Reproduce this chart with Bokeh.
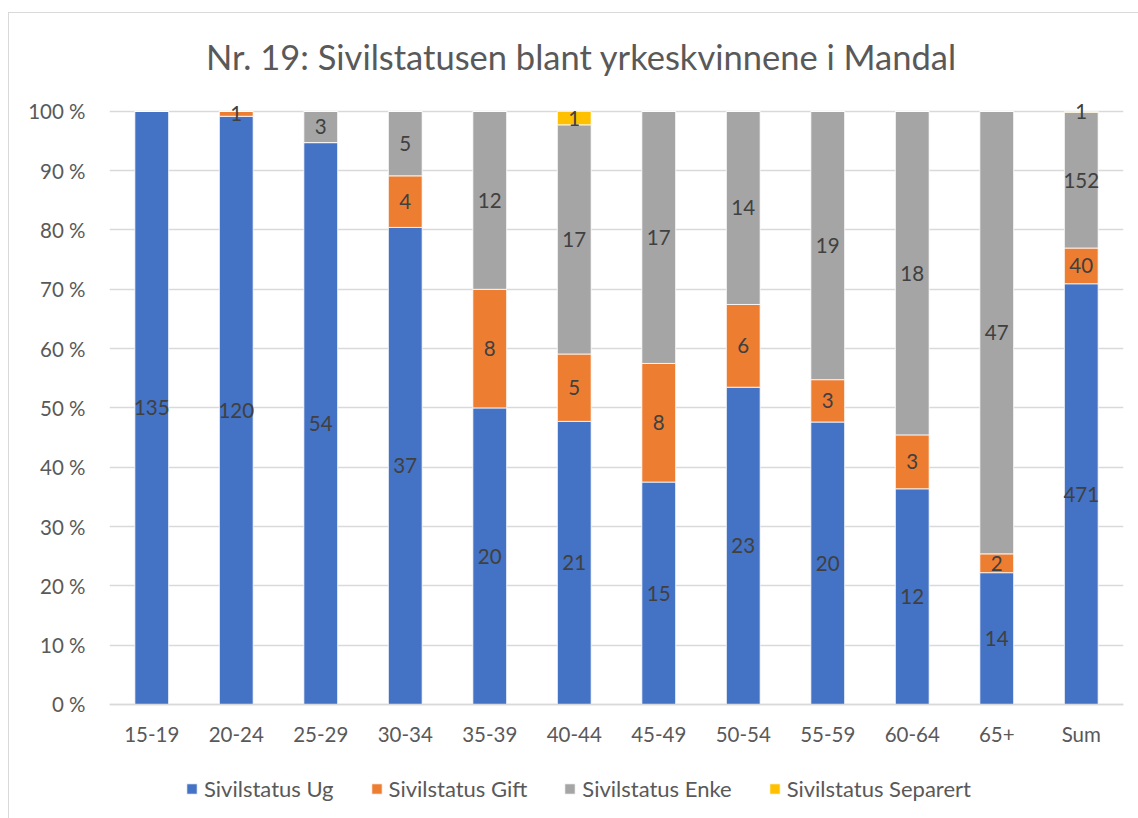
from bokeh.plotting import figure
from bokeh.models import (ColumnDataSource, FactorRange, FixedTicker, PrintfTickFormatter,
                          Legend, LegendItem, CategoricalAxis, Range1d, Label)
from bokeh.core.properties import value
from bokeh.embed import file_html
from bokeh.resources import INLINE

categories = ["15-19", "20-24", "25-29", "30-34", "35-39", "40-44", "45-49",
              "50-54", "55-59", "60-64", "65+", "Sum"]
ug = [135, 120, 54, 37, 20, 21, 15, 23, 20, 12, 14, 471]
gift = [0, 1, 0, 4, 8, 5, 8, 6, 3, 3, 2, 40]
enke = [0, 0, 3, 5, 12, 17, 17, 14, 19, 18, 47, 152]
separert = [0, 0, 0, 0, 0, 1, 0, 0, 0, 0, 0, 1]
series_names = ["Sivilstatus Ug", "Sivilstatus Gift", "Sivilstatus Enke", "Sivilstatus Separert"]
colors = ["#4472C4", "#ED7D31", "#A5A5A5", "#FFC000"]
y_ticks = [0, 10, 20, 30, 40, 50, 60, 70, 80, 90, 100]
title_text = "Nr. 19: Sivilstatusen blant yrkeskvinnene i Mandal"

FONT = "Lato"
series = [ug, gift, enke, separert]
keys = ["ug", "gift", "enke", "separert"]
totals = [sum(v) for v in zip(*series)]
data = {"cat": categories}
for k, s in zip(keys, series):
    data[k] = [v / t * 100 for v, t in zip(s, totals)]
source = ColumnDataSource(data)

p = figure(x_range=FactorRange(factors=categories, range_padding=0),
           y_range=Range1d(-17.2, 116.5),
           width=1130, height=806, output_backend="svg", toolbar_location=None,
           x_axis_location=None, title_location=None,
           min_border_left=100, min_border_right=16, min_border_top=0, min_border_bottom=13)
p.styles = {"margin-left": "8px", "margin-top": "12px",
            "border-left": "1px solid #d9d9d9", "border-top": "1px solid #d9d9d9"}
p.outline_line_color = None
p.background_fill_color = "white"
p.border_fill_color = "white"

rends = p.vbar_stack(keys, x="cat", width=0.4, color=colors, line_color="white",
                     line_width=0.8, source=source)

# data labels
lx, ly, lt = [], [], []
for i, c in enumerate(categories):
    base = 0.0
    for k, s in zip(keys, series):
        h = data[k][i]
        if s[i] > 0:
            lx.append(c)
            ly.append(base + h / 2)
            lt.append(str(s[i]))
        base += h
p.text(x=lx, y=ly, text=lt, text_align="center", text_baseline="middle",
       text_font=value(FONT), text_font_size="20.5px", text_color="#404040")

# y axis
p.yaxis.ticker = FixedTicker(ticks=y_ticks)
p.yaxis.formatter = PrintfTickFormatter(format="%d %%")
p.yaxis.axis_line_color = None
p.yaxis.major_tick_line_color = None
p.yaxis.minor_tick_line_color = None
p.yaxis.major_label_standoff = 18
p.yaxis.major_label_text_font = FONT
p.yaxis.major_label_text_font_size = "20.5px"
p.yaxis.major_label_text_color = "#595959"

# x axis fixed at 0
xaxis = CategoricalAxis(fixed_location=0)
xaxis.axis_line_color = "#d9d9d9"
xaxis.axis_line_width = 1.5
xaxis.major_tick_line_color = None
xaxis.minor_tick_line_color = None
xaxis.major_label_standoff = 12
xaxis.major_label_text_font = FONT
xaxis.major_label_text_font_size = "20.5px"
xaxis.major_label_text_color = "#595959"
p.add_layout(xaxis, "below")

for g in p.grid:
    if g.dimension == 0:
        g.grid_line_color = None
    else:
        g.grid_line_color = "#d9d9d9"
        g.grid_line_width = 1.5

# title
p.add_layout(Label(x=472, y=750, x_units="screen", y_units="screen", text=title_text,
                   text_align="center", text_baseline="middle", text_font=FONT,
                   text_font_size="34.5px", text_color="#595959"))

legend = Legend(items=[LegendItem(label=n, renderers=[r]) for n, r in zip(series_names, rends)],
                orientation="horizontal", location=(76, 4), glyph_width=13, glyph_height=13,
                label_standoff=6, spacing=36, padding=0, margin=0, border_line_color=None,
                background_fill_alpha=0, label_text_font=FONT, label_text_font_size="22px",
                label_text_color="#595959")
p.add_layout(legend, "center")

open("out.html", "w").write(file_html(p, INLINE))
